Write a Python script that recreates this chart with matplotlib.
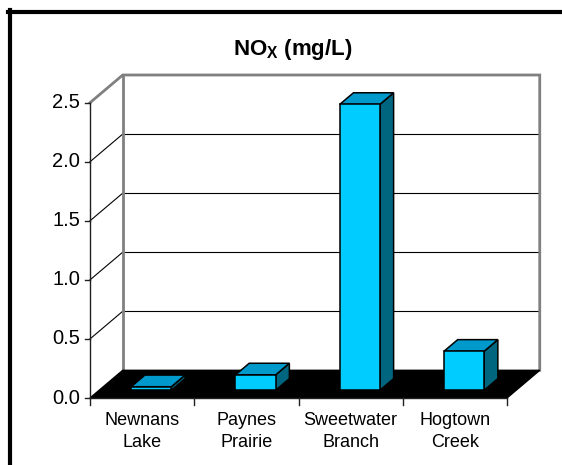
import matplotlib
matplotlib.use("Agg")
import matplotlib.pyplot as plt
from matplotlib.patches import Polygon, Rectangle
from matplotlib.lines import Line2D

plt.rcParams['font.family'] = ['Liberation Sans', 'DejaVu Sans']
plt.rcParams['mathtext.fontset'] = 'custom'
plt.rcParams['mathtext.rm'] = 'Liberation Sans'
plt.rcParams['mathtext.bf'] = 'Liberation Sans:bold'

# NOx concentration per site
sites = ['Newnans\nLake', 'Paynes\nPrairie', 'Sweetwater\nBranch', 'Hogtown\nCreek']
nox = [0.03, 0.13, 2.42, 0.33]
y_ticks = [0.0, 0.5, 1.0, 1.5, 2.0, 2.5]
y_max = 2.5

# 3D look: depth offset of the back wall (category units, value units)
DX, DY = 0.314, 0.2345
# bars sit between these depth fractions
D0, D1 = 0.28, 0.70
BAR_W = 0.385

FRONT = '#00CCFF'
TOP = '#0099CC'
SIDE = '#006680'
WALL_EDGE = '#808080'

W, H = 562, 465
fig = plt.figure(figsize=(W / 100, H / 100), dpi=100)
ax = fig.add_axes([0, 0, 1, 1])
ax.set_axis_off()

# pixel layout of the front plane
x0_px, x4_px = 90, 507
y0_px, ytop_px = 398, 102.7
cat_px = (x4_px - x0_px) / len(sites)
val_px = (y0_px - ytop_px) / y_max
ax.set_xlim(-x0_px / cat_px, (W - x0_px) / cat_px)
ax.set_ylim((y0_px - H) / val_px, y0_px / val_px)

n = len(sites)

# back wall
ax.add_patch(Rectangle((DX, DY), n, y_max, facecolor='white',
                       edgecolor='none', zorder=1))
# left side wall
ax.add_patch(Polygon([(0, 0), (0, y_max), (DX, y_max + DY), (DX, DY)],
                     closed=True, facecolor='white', edgecolor='none', zorder=1))

# gridlines on back and side walls
for v in y_ticks[1:-1]:
    ax.plot([DX, n + DX], [v + DY, v + DY], color='black', lw=0.8, zorder=2)
    ax.plot([0, DX], [v, v + DY], color='black', lw=0.8, zorder=2)

# wall edges
ax.plot([0, DX, n + DX, n + DX], [y_max, y_max + DY, y_max + DY, DY],
        color=WALL_EDGE, lw=2, zorder=3, solid_joinstyle='miter')
ax.plot([DX, DX], [DY, y_max + DY], color=WALL_EDGE, lw=2, zorder=3)

# floor
ax.add_patch(Polygon([(0, 0), (n, 0), (n + DX, DY), (DX, DY)], closed=True,
                     facecolor='black', edgecolor='black', lw=1, zorder=4))

# bars
for i, v in enumerate(nox):
    xl = i + 0.5 - BAR_W / 2 + D0 * DX
    xr = xl + BAR_W
    yb = D0 * DY
    yt = yb + v
    ddx, ddy = (D1 - D0) * DX, (D1 - D0) * DY
    side = [(xr, yb), (xr + ddx, yb + ddy), (xr + ddx, yt + ddy), (xr, yt)]
    top = [(xl, yt), (xr, yt), (xr + ddx, yt + ddy), (xl + ddx, yt + ddy)]
    front = [(xl, yb), (xr, yb), (xr, yt), (xl, yt)]
    for pts, col in ((side, SIDE), (top, TOP), (front, FRONT)):
        ax.add_patch(Polygon(pts, closed=True, facecolor=col,
                             edgecolor='black', lw=1.1, zorder=5,
                             joinstyle='miter'))

# value axis
ax.plot([0, 0], [0, y_max], color='#202020', lw=1, zorder=6)
tick_x = 5 / cat_px
for v in y_ticks:
    ax.plot([-tick_x, 0], [v, v], color='#202020', lw=1, zorder=6)
    ax.text(-tick_x - 0.045, v, f'{v:.1f}', ha='right', va='center',
            fontsize=14.5, color='black')

# category axis
ax.plot([0, n], [0, 0], color='#202020', lw=1, zorder=6)
tick_y = 7 / val_px
for i in range(n + 1):
    ax.plot([i, i], [0, -tick_y], color='#202020', lw=1, zorder=6)
for i, name in enumerate(sites):
    ax.text(i + 0.5, -0.115, name, ha='center', va='top', fontsize=13,
            linespacing=1.45, color='black')

# title
ax.text((293 - x0_px) / cat_px, (y0_px - 55) / val_px,
        r'NO$_{\mathbf{X}}$ (mg/L)', ha='center', va='baseline',
        fontsize=16, fontweight='bold')

# chart area border (runs off the right and bottom edges)
fig.add_artist(Line2D([8 / W, 1], [1 - 12 / H, 1 - 12 / H],
                      transform=fig.transFigure, color='black', lw=3))
fig.add_artist(Line2D([10 / W, 10 / W], [0, 1 - 10 / H],
                      transform=fig.transFigure, color='black', lw=3))

fig.savefig('out.png', dpi=100)
